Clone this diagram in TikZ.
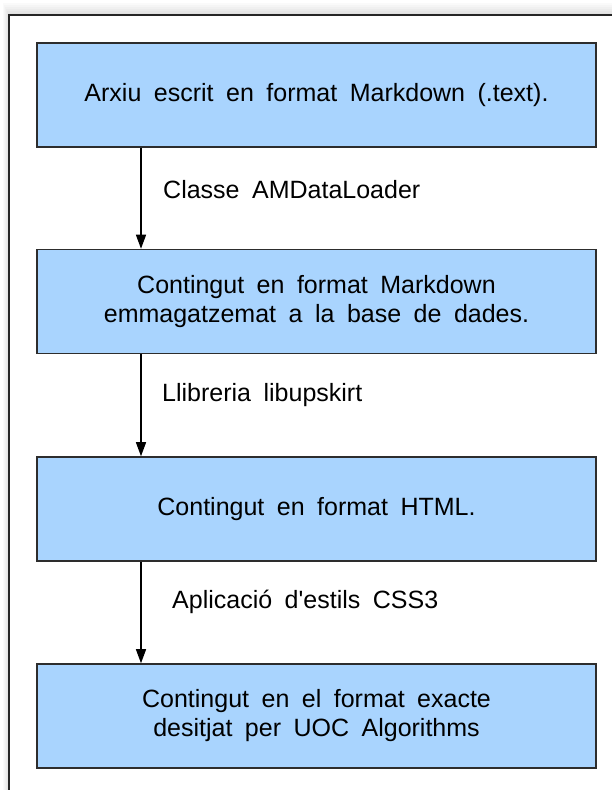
\documentclass[tikz,border=0pt]{standalone}
\usepackage{fontspec}
\setmainfont{Liberation Sans}[WordSpace=1.8]
\usepackage{tikz}
\usetikzlibrary{arrows.meta, calc}
\definecolor{boxblue}{RGB}{169, 212, 254}
\definecolor{boxline}{RGB}{45, 45, 45}

\begin{document}
\begin{tikzpicture}[x=1pt, y=1pt, >={Triangle[width=10pt,length=14pt]},
    stage/.style={draw=boxline, line width=1.5pt, fill=boxblue, minimum width=559pt,
      minimum height=104pt, inner sep=0pt, align=center,
      font=\fontsize{25}{29}\selectfont},
    tag/.style={anchor=west, inner sep=0pt, font=\fontsize{25}{29}\selectfont},
    flow/.style={->, line width=1.3pt, draw=black}]
  \useasboundingbox (0,0) rectangle (611,790);
  % frame with soft shadow
  \foreach \d in {2,4,...,12}
    \fill[black, opacity=0.02] (9-\d/2, -10) rectangle (620, 775+\d);
  \fill[white] (9,-10) rectangle (620,775);
  \draw[line width=2pt, draw=black!85] (9,-10) -- (9,775) -- (620,775);

  \node[stage] (b1) at (316.5, 695)   {Arxiu escrit en format Markdown (.text).};
  \node[stage] (b2) at (316.5, 488.5) {Contingut en format Markdown\\emmagatzemat a la base de dades.};
  \node[stage] (b3) at (316.5, 281)   {Contingut en format HTML.};
  \node[stage] (b4) at (316.5, 74)    {Contingut en el format exacte\\desitjat per UOC Algorithms};

  \coordinate (ax) at (141, 0);
  \draw[flow] (b1.south -| ax) -- (b2.north -| ax);
  \draw[flow] (b2.south -| ax) -- (b3.north -| ax);
  \draw[flow] (b3.south -| ax) -- (b4.north -| ax);

  \node[tag] (t1) at (163, 600) {Classe AMDataLoader};
  \node[tag] (t2) at (162, 395) {Llibreria libupskirt};
  \node[tag] (t3) at (172, 188) {Aplicació d\textquotesingle estils CSS3};
\end{tikzpicture}
\end{document}
